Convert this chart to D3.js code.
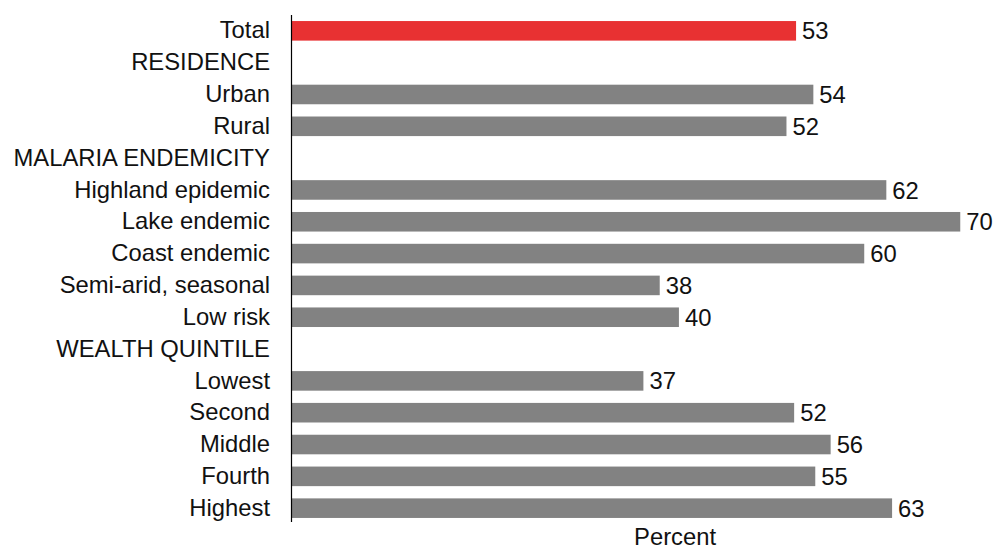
<!DOCTYPE html>
<html>
<head>
<meta charset="utf-8">
<script src="https://cdn.jsdelivr.net/npm/d3@7"></script>
<style>
  html, body { margin: 0; padding: 0; background: #fff; }
  svg { display: block; font-family: Arial, "Liberation Sans", sans-serif; }
</style>
</head>
<body>
<svg id="chart" width="995" height="550"></svg>
<script>
// Rows (top to bottom); headers have no value
const categories = ["Total", "RESIDENCE", "Urban", "Rural", "MALARIA ENDEMICITY",
  "Highland epidemic", "Lake endemic", "Coast endemic", "Semi-arid, seasonal", "Low risk",
  "WEALTH QUINTILE", "Lowest", "Second", "Middle", "Fourth", "Highest"];
const values = [52.6, null, 54.4, 51.6, null,
  62.0, 69.7, 59.7, 38.4, 40.4,
  null, 36.7, 52.4, 56.2, 54.6, 62.6];
const highlight = ["Total"];
const axisTitle = "Percent";

(function () {
const svg = d3.select("#chart");
const mLeft = 291, mTop = 15, mBottom = 524;
const x = d3.scaleLinear().domain([0, 80]).range([mLeft, mLeft + 80 * 9.602]);
const y = d3.scaleBand().domain(categories).range([mTop, mBottom]).paddingInner(0.385).paddingOuter(0.19);

const rows = categories.map((c, i) => ({ c, v: values[i] }));
const fontSize = 23.8;
const ff = "Arial, 'Liberation Sans', sans-serif";

// bars
svg.append("g").selectAll("rect")
  .data(rows.filter(d => d.v != null))
  .join("rect")
  .attr("x", x(0))
  .attr("y", d => y(d.c))
  .attr("width", d => x(d.v) - x(0))
  .attr("height", y.bandwidth())
  .attr("fill", d => highlight.includes(d.c) ? "#e83132" : "#828282");

// value labels
svg.append("g").selectAll("text")
  .data(rows.filter(d => d.v != null))
  .join("text")
  .attr("x", d => x(d.v) + 6)
  .attr("y", d => y(d.c) + y.bandwidth() / 2)
  .attr("dy", "0.36em")
  .attr("font-size", fontSize)
  .attr("font-family", ff)
  .attr("fill", "#111")
  .text(d => d3.format(".0f")(d.v));

// category labels via axis
const yAxis = d3.axisLeft(y).tickSize(0).tickPadding(21);
const ga = svg.append("g").attr("transform", `translate(${mLeft},0)`).call(yAxis);
ga.select(".domain").remove();
ga.attr("font-family", ff).attr("font-size", fontSize);
ga.selectAll("text")
  .attr("font-size", fontSize)
  .attr("font-family", ff)
  .attr("fill", "#111");

// vertical axis line
svg.append("line")
  .attr("x1", mLeft + 0.5).attr("x2", mLeft + 0.5)
  .attr("y1", 15).attr("y2", 522)
  .attr("stroke", "#000").attr("stroke-width", 1.2);

// axis title
svg.append("text")
  .attr("x", x(40))
  .attr("y", 545)
  .attr("text-anchor", "middle")
  .attr("font-size", fontSize)
  .attr("font-family", ff)
  .attr("fill", "#111")
  .text(axisTitle);
})();
</script>
</body>
</html>
